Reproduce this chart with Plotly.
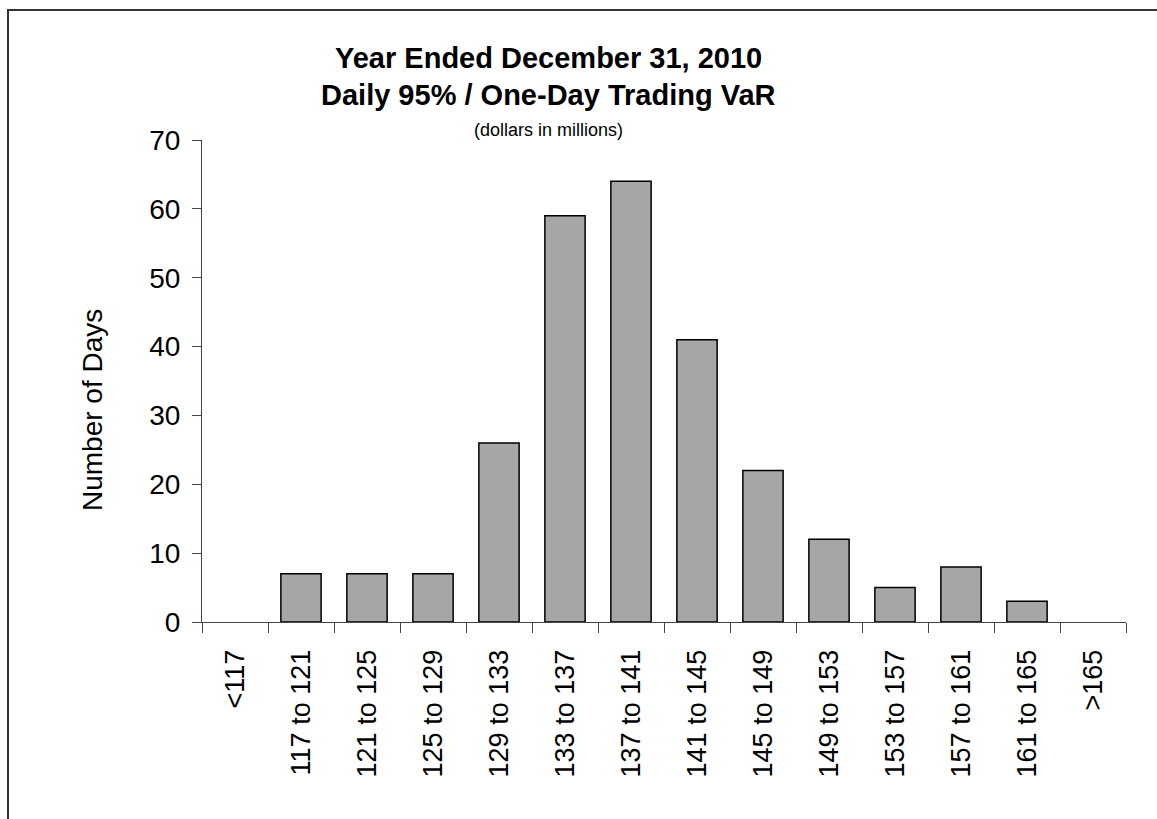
import plotly.graph_objects as go

categories = ["<117", "117 to 121", "121 to 125", "125 to 129", "129 to 133",
              "133 to 137", "137 to 141", "141 to 145", "145 to 149", "149 to 153",
              "153 to 157", "157 to 161", "161 to 165", ">165"]
days = [0, 7, 7, 7, 26, 59, 64, 41, 22, 12, 5, 8, 3, 0]
y_ticks = [0, 10, 20, 30, 40, 50, 60, 70]

FONT = "Arial, Liberation Sans, Helvetica, sans-serif"

W, H = 1157, 819
L, R, T, B = 202, 31, 140, 197
pw, ph = W - L - R, H - T - B

def px(x):
    return (x - L) / pw

def py(y):
    return (H - B - y) / ph

fig = go.Figure()
fig.add_trace(go.Bar(
    x=categories, y=days,
    marker=dict(color="#a6a6a6",
                line=dict(color="#000000",
                          width=[0 if v == 0 else 1.5 for v in days])),
    showlegend=False,
))

fig.update_layout(
    width=W, height=H,
    margin=dict(l=L, r=R, t=T, b=B, pad=0),
    paper_bgcolor="white", plot_bgcolor="white",
    bargap=0.39,
    font=dict(family=FONT, color="#000000"),
    xaxis=dict(
        type="category", range=[-0.5, 13.5], tickson="boundaries",
        ticks="outside", ticklen=10, tickcolor="#444444", tickwidth=1,
        showline=True, linecolor="#444444", linewidth=1,
        tickangle=-90, tickfont=dict(size=27, family=FONT, color="#000000"),
        ticklabelstandoff=16,
        showgrid=False, zeroline=False, fixedrange=True,
    ),
    yaxis=dict(
        range=[0, 70], tickvals=y_ticks,
        ticks="outside", ticklen=9, tickcolor="#444444", tickwidth=1,
        showline=True, linecolor="#444444", linewidth=1,
        tickfont=dict(size=28, family=FONT, color="#000000"),
        ticklabelstandoff=6,
        showgrid=False, zeroline=False, fixedrange=True,
    ),
    annotations=[
        dict(text="<b>Year Ended December 31, 2010</b>", x=px(548), y=py(58),
             xref="paper", yref="paper", xanchor="center", yanchor="middle",
             showarrow=False, font=dict(size=29, family=FONT, color="#000000")),
        dict(text="<b>Daily 95% / One-Day Trading VaR</b>", x=px(548), y=py(95),
             xref="paper", yref="paper", xanchor="center", yanchor="middle",
             showarrow=False, font=dict(size=29, family=FONT, color="#000000")),
        dict(text="(dollars in millions)", x=px(548), y=py(130),
             xref="paper", yref="paper", xanchor="center", yanchor="middle",
             showarrow=False, font=dict(size=18, family=FONT, color="#000000")),
        dict(text="Number of Days", x=px(92), y=py(410), textangle=-90,
             xref="paper", yref="paper", xanchor="center", yanchor="middle",
             showarrow=False, font=dict(size=28, family=FONT, color="#000000")),
    ],
    shapes=[
        dict(type="rect", xref="paper", yref="paper",
             x0=px(8), x1=px(1165), y0=py(10), y1=py(830),
             line=dict(color="#333333", width=2), fillcolor="rgba(0,0,0,0)",
             layer="above"),
    ],
)

fig.write_html("out.html")
